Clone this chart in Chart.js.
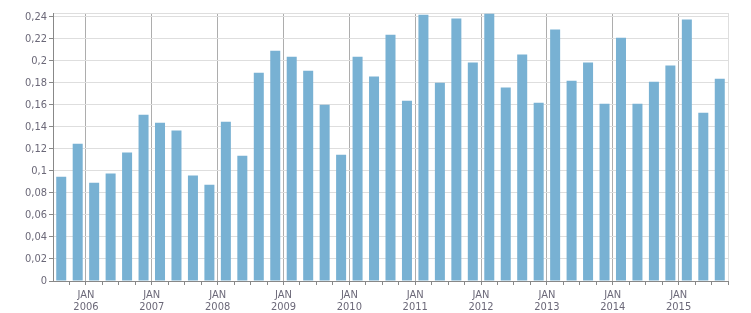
<!DOCTYPE html>
<html>
<head>
<meta charset="utf-8">
<script src="https://cdn.jsdelivr.net/npm/chart.js@4/dist/chart.umd.min.js"></script>
<style>
  html, body { margin: 0; padding: 0; background: #fff; }
  #wrap { width: 751px; height: 313px; }
</style>
</head>
<body>
<div id="wrap"><canvas id="c" width="751" height="313"></canvas></div>
<script>
// Quarters from 2005 Q3 to 2015 Q3
const quarters = [
  '2005 Q3','2005 Q4',
  '2006 Q1','2006 Q2','2006 Q3','2006 Q4',
  '2007 Q1','2007 Q2','2007 Q3','2007 Q4',
  '2008 Q1','2008 Q2','2008 Q3','2008 Q4',
  '2009 Q1','2009 Q2','2009 Q3','2009 Q4',
  '2010 Q1','2010 Q2','2010 Q3','2010 Q4',
  '2011 Q1','2011 Q2','2011 Q3','2011 Q4',
  '2012 Q1','2012 Q2','2012 Q3','2012 Q4',
  '2013 Q1','2013 Q2','2013 Q3','2013 Q4',
  '2014 Q1','2014 Q2','2014 Q3','2014 Q4',
  '2015 Q1','2015 Q2','2015 Q3'
];
const values = [
  0.0948, 0.1248,
  0.0894, 0.0976, 0.1167, 0.1512,
  0.1439, 0.1367, 0.0958, 0.0876,
  0.1448, 0.1139, 0.1894, 0.2094,
  0.2039, 0.1912, 0.1603, 0.1148,
  0.2039, 0.1858, 0.2239, 0.1639,
  0.2421, 0.1803, 0.2385, 0.1985,
  0.2430, 0.1758, 0.2058, 0.1621,
  0.2285, 0.1821, 0.1985, 0.1612,
  0.2212, 0.1612, 0.1812, 0.1958,
  0.2376, 0.1530, 0.1839
];
const monthLabel = 'JAN';
const yearLabels = ['2006','2007','2008','2009','2010','2011','2012','2013','2014','2015'];
const yTickValues = [0, 0.02, 0.04, 0.06, 0.08, 0.1, 0.12, 0.14, 0.16, 0.18, 0.2, 0.22, 0.24];
const yMax = 0.2436;

// quarter index of the first Q1 (JAN boundary lies half a slot before it)
const firstQ1 = quarters.indexOf('2006 Q1');
const yearBoundary = v => {
  const k = (v - (firstQ1 - 0.5)) / 4;
  return Math.abs(k - Math.round(k)) < 1e-6 ? Math.round(k) : -1;
};

const FONT = "'DejaVu Sans Condensed', 'DejaVu Sans', sans-serif";
const TXT = '#6b6878';

new Chart(document.getElementById('c'), {
  type: 'bar',
  data: {
    datasets: [{
      data: values.map((v, i) => ({ x: i, y: v })),
      backgroundColor: '#78b1d3',
      borderWidth: 0,
      categoryPercentage: 0.8,
      barPercentage: 0.76
    }]
  },
  options: {
    responsive: false,
    animation: false,
    layout: { padding: { top: 13, right: 23, left: 0, bottom: 0 } },
    plugins: { legend: { display: false }, tooltip: { enabled: false } },
    scales: {
      x: {
        type: 'linear',
        min: -0.5,
        max: quarters.length - 0.5,
        offset: false,
        afterBuildTicks: s => {
          const t = [];
          for (let i = 0; i < quarters.length; i++) t.push({ value: i + 0.5 });
          s.ticks = t;
        },
        afterFit: s => { s.height = 32; },
        border: { display: true, color: '#888', width: 1 },
        grid: {
          offset: false,
          drawOnChartArea: true,
          tickLength: 4,
          color: ctx => {
            const v = ctx.tick ? ctx.tick.value : null;
            if (v === null) return 'rgba(0,0,0,0)';
            if (Math.abs(v - (quarters.length - 0.5)) < 1e-6) return '#dedede';
            return yearBoundary(v) >= 0 ? '#adadad' : 'rgba(0,0,0,0)';
          },
          tickColor: '#888'
        },
        ticks: {
          autoSkip: false,
          maxRotation: 0,
          minRotation: 0,
          padding: 4,
          color: TXT,
          font: { family: FONT, size: 11, lineHeight: 1.1 },
          callback: v => {
            const k = yearBoundary(v);
            return k >= 0 && k < yearLabels.length ? [monthLabel, yearLabels[k]] : '';
          }
        }
      },
      y: {
        min: 0,
        max: yMax,
        afterBuildTicks: s => {
          s.ticks = yTickValues.map(v => ({ value: v })).concat([{ value: yMax }]);
        },
        afterFit: s => { s.width = 53; },
        border: { display: true, color: '#888', width: 1 },
        grid: {
          tickLength: 4,
          color: '#dedede',
          tickColor: ctx => (ctx.tick && ctx.tick.value === yMax) ? 'rgba(0,0,0,0)' : '#888'
        },
        ticks: {
          padding: 2,
          color: TXT,
          font: { family: FONT, size: 11 },
          callback: v => {
            if (v === yMax) return '';
            return String(Number(v.toFixed(2))).replace('.', ',');
          }
        }
      }
    }
  }
});
</script>
</body>
</html>
